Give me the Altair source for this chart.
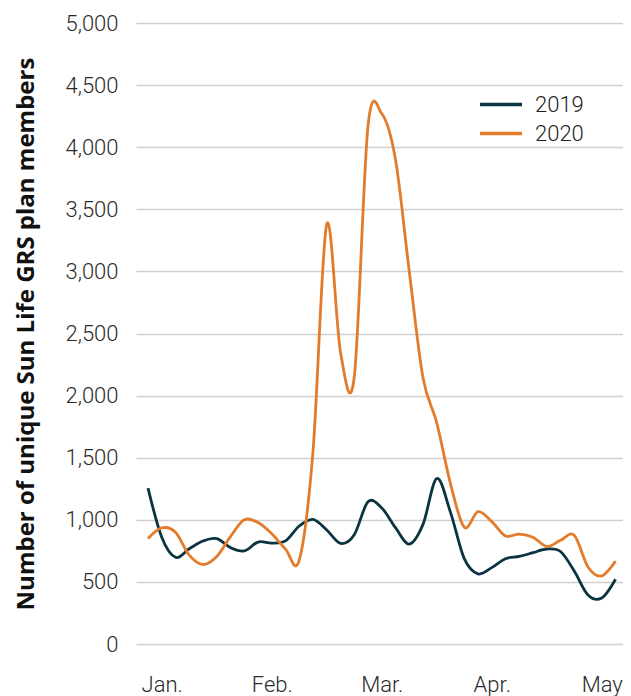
import altair as alt
import pandas as pd

# half-weekly reporting periods, Jan. to mid-May
periods = list(range(35))
members_2019 = [1255, 860, 698, 767, 829, 848, 776, 749, 821, 812, 830, 950,
                1003, 918, 810, 880, 1145, 1095, 937, 805, 963, 1333, 1060, 687,
                565, 615, 687, 705, 735, 765, 745, 588, 395, 370, 521]
members_2020 = [850, 935, 900, 715, 640, 705, 865, 1000, 978, 888, 765, 675,
                1550, 3380, 2350, 2150, 4170, 4270, 3900, 3001, 2143, 1781, 1290, 940,
                1065, 985, 870, 885, 860, 785, 835, 875, 620, 548, 668]
years = ["2019", "2020"]
colors = ["#0b3442", "#e37b2b"]
month_labels = ["Jan.", "Feb.", "Mar.", "Apr.", "May"]
month_ticks = [1, 9, 17, 25, 33]
y_ticks = list(range(0, 5001, 500))

rows = []
for yr, vals in zip(years, [members_2019, members_2020]):
    for p, v in zip(periods, vals):
        rows.append({"period": p, "year": yr, "members": v})
df = pd.DataFrame(rows)

label_expr = " : ".join(
    f"datum.value == {t} ? '{l}'" for t, l in zip(month_ticks, month_labels)
) + " : ''"

FONT = "Roboto"
TITLE_FONT = "Open Sans"
PX = 13.75  # pixels per period
W = 487
X0 = -12 / PX

chart = alt.Chart(df).mark_line(interpolate="cardinal", strokeWidth=2.8).encode(
    x=alt.X(
        "period:Q",
        scale=alt.Scale(domain=[X0, X0 + W / PX], nice=False, zero=False),
        axis=alt.Axis(values=month_ticks, labelExpr=label_expr, title=None,
                      grid=False, ticks=False, domain=False, labelPadding=47,
                      labelBaseline="alphabetic", labelFontWeight=300,
                      labelFontSize=22, labelColor="#2b2b2b", labelFont=FONT),
    ),
    y=alt.Y(
        "members:Q",
        scale=alt.Scale(domain=[0, 5000], nice=False),
        axis=alt.Axis(values=y_ticks, format=",d",
                      title="Number of unique Sun Life GRS plan members",
                      titleFont=TITLE_FONT, titleFontSize=24, titleFontWeight="bold",
                      titleColor="#111", titleX=-103, titleBaseline="alphabetic",
                      labelFont=FONT, labelFontSize=22, labelColor="#2b2b2b",
                      labelFontWeight=300,
                      labelPadding=18, ticks=False, domain=False,
                      grid=True, gridColor="#d0d0d0", gridWidth=1.5),
    ),
    color=alt.Color(
        "year:N",
        scale=alt.Scale(domain=years, range=colors),
        legend=alt.Legend(title=None, orient="none", legendX=342, legendY=67,
                          symbolType="stroke", symbolSize=1764,
                          symbolStrokeWidth=3.5, labelFont=FONT,
                          labelFontSize=22, labelColor="#222",
                          labelFontWeight=300, clipHeight=29,
                          labelOffset=11, rowPadding=0, padding=0),
    ),
).properties(
    width=W,
    height=621,
    autosize=alt.AutoSizeParams(type="none"),
    padding={"left": 128, "top": 15, "right": 0, "bottom": 52},
).configure_view(stroke=None)

chart.save("out.html", embed_options={"renderer": "svg", "actions": False})
